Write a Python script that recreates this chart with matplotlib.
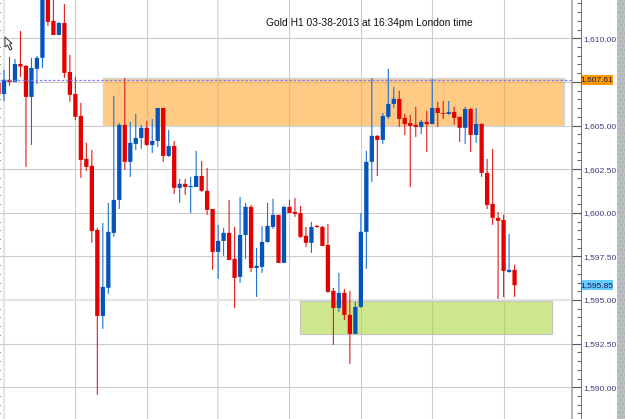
import numpy as np
import matplotlib
matplotlib.use("Agg")
import matplotlib.pyplot as plt
from matplotlib.colors import to_rgba
from matplotlib.patches import Polygon, Rectangle
from matplotlib.ticker import FuncFormatter, MultipleLocator

plt.rcParams["font.family"] = ["Liberation Sans", "DejaVu Sans"]

TITLE = "Gold H1 03-38-2013 at 16:34pm London time"

# hourly bars, oldest first
opens = [
    1607.44, 1606.81, 1607.62, 1607.50, 1608.53, 1608.42, 1606.64, 1608.25, 1608.88, 1613.34,
    1611.00, 1610.19, 1610.88, 1608.07, 1606.81, 1605.55, 1603.09, 1602.69, 1599.02, 1594.09,
    1595.70, 1598.85, 1600.74, 1605.04, 1602.92, 1603.95, 1604.29, 1604.87, 1603.89, 1604.12,
    1606.01, 1603.26, 1603.83, 1601.43, 1601.66, 1601.48, 1601.48, 1602.11, 1601.26, 1600.22,
    1597.76, 1598.39, 1598.85, 1597.36, 1596.33, 1598.73, 1600.34, 1596.84, 1596.90, 1598.33,
    1599.19, 1599.88, 1597.13, 1600.34, 1600.05, 1599.99, 1598.68, 1598.28, 1599.25, 1599.19,
    1598.16, 1595.53, 1594.55, 1595.41, 1594.15, 1593.06, 1594.61, 1598.91, 1602.92, 1604.41,
    1604.18, 1605.50, 1606.24, 1606.53, 1605.44, 1605.15, 1605.04, 1604.92, 1605.21, 1605.09,
    1606.01, 1605.72, 1605.67, 1605.78, 1605.50, 1604.87, 1605.95, 1604.46, 1605.09, 1602.29,
    1600.51, 1599.71, 1599.59, 1596.61, 1596.73,
]
highs = [
    1607.44, 1608.19, 1608.93, 1608.82, 1610.42, 1608.48, 1608.88, 1608.99, 1613.60, 1613.60,
    1614.26, 1610.94, 1611.97, 1609.05, 1607.79, 1606.30, 1604.01, 1603.61, 1599.14, 1599.42,
    1600.57, 1606.70, 1605.15, 1607.73, 1605.21, 1605.67, 1605.04, 1605.27, 1605.38, 1606.01,
    1606.01, 1604.75, 1604.12, 1601.94, 1601.94, 1602.06, 1603.55, 1602.97, 1602.57, 1600.22,
    1599.31, 1599.14, 1600.74, 1599.19, 1600.91, 1600.57, 1600.45, 1597.99, 1599.25, 1600.57,
    1600.80, 1599.88, 1600.40, 1600.74, 1600.85, 1600.40, 1599.19, 1599.48, 1599.31, 1599.25,
    1599.36, 1595.70, 1596.56, 1595.64, 1595.53, 1594.90, 1599.99, 1603.55, 1607.73, 1604.46,
    1605.72, 1608.25, 1607.21, 1606.99, 1605.67, 1605.61, 1606.07, 1605.32, 1605.84, 1607.67,
    1606.36, 1606.41, 1606.41, 1606.07, 1605.50, 1606.07, 1606.01, 1606.01, 1605.15, 1603.09,
    1603.66, 1600.05, 1599.88, 1598.79, 1597.02,
]
lows = [
    1606.81, 1606.41, 1607.27, 1607.50, 1607.79, 1602.63, 1603.89, 1607.39, 1608.30, 1610.71,
    1610.19, 1610.19, 1607.73, 1606.36, 1605.32, 1602.00, 1602.40, 1598.28, 1589.57, 1593.35,
    1595.35, 1598.62, 1600.22, 1602.46, 1602.06, 1603.61, 1603.66, 1603.83, 1603.43, 1603.78,
    1602.92, 1603.20, 1601.08, 1600.57, 1601.03, 1599.99, 1601.48, 1601.20, 1599.88, 1596.73,
    1596.21, 1597.53, 1597.30, 1594.55, 1595.98, 1597.36, 1596.61, 1595.18, 1596.56, 1598.28,
    1599.08, 1597.13, 1597.13, 1599.99, 1599.77, 1598.56, 1598.05, 1597.70, 1599.14, 1598.10,
    1595.41, 1592.43, 1594.32, 1593.86, 1591.34, 1593.06, 1594.55, 1596.79, 1601.77, 1602.11,
    1603.95, 1605.38, 1606.01, 1604.92, 1604.46, 1601.48, 1604.35, 1604.52, 1603.49, 1605.09,
    1604.92, 1605.38, 1605.61, 1605.04, 1604.06, 1603.95, 1603.49, 1604.01, 1602.06, 1600.22,
    1599.31, 1595.07, 1595.18, 1596.56, 1595.18,
]
closes = [
    1606.81, 1607.62, 1607.50, 1608.53, 1608.39, 1606.64, 1608.30, 1608.88, 1613.34, 1610.94,
    1610.19, 1610.88, 1608.02, 1606.76, 1605.50, 1603.03, 1602.63, 1598.96, 1594.09, 1595.75,
    1598.91, 1600.74, 1605.04, 1602.92, 1604.01, 1604.29, 1604.87, 1603.89, 1604.12, 1606.01,
    1603.26, 1603.83, 1601.43, 1601.66, 1601.48, 1601.54, 1602.11, 1601.26, 1600.17, 1597.76,
    1598.39, 1598.85, 1597.30, 1596.27, 1598.73, 1600.34, 1596.84, 1596.96, 1598.33, 1599.25,
    1599.88, 1597.13, 1600.34, 1599.99, 1599.94, 1598.62, 1598.28, 1599.19, 1599.19, 1598.10,
    1595.47, 1594.55, 1595.41, 1594.15, 1593.06, 1594.61, 1598.91, 1602.92, 1604.41, 1604.18,
    1605.55, 1606.24, 1606.53, 1605.38, 1605.09, 1604.98, 1604.92, 1605.21, 1605.09, 1606.01,
    1605.72, 1605.67, 1605.78, 1605.44, 1604.87, 1605.95, 1604.46, 1605.09, 1602.29, 1600.45,
    1599.71, 1599.54, 1596.67, 1596.73, 1595.85,
]

# price bands marked on the chart: (first bar, last bar, low, high)
resistance_zone = (18.03, 102.0, 1605.0, 1607.75)
support_zone = (53.97, 99.87, 1593.06, 1594.92)

bid_price = 1607.61
last_price = 1595.85

# the 1,607.50 label is covered by the bid tag
price_levels = [1590.0, 1592.5, 1595.0, 1597.5, 1600.0, 1602.5, 1605.0, 1607.5, 1610.0]
price_labels = ["1,590.00", "1,592.50", "1,595.00", "1,597.50", "1,600.00", "1,602.50", "1,605.00", "", "1,610.00"]
bar_grid = [0, 13, 26, 39, 52, 65, 78, 91]

W, H = 625, 419
XMIN, XMAX = -0.729, 103.46
YMIN, YMAX = 1588.183, 1612.195


def px(x, y):
    return x / W, 1 - y / H


fig = plt.figure(figsize=(W / 100, H / 100), dpi=100, facecolor="white")
ax = fig.add_axes([0, 0, 572 / W, 1])
ax.set_xlim(XMIN, XMAX)
ax.set_ylim(YMIN, YMAX)

ax.set_xticks(bar_grid)
ax.set_yticks(price_levels)
ax.tick_params(left=False, bottom=False, labelleft=False, labelbottom=False)
ax.grid(True, color="#cbcbcb", lw=0.75, zorder=0)
ax.set_axisbelow(True)
for name in ["top", "left", "bottom"]:
    ax.spines[name].set_visible(False)
ax.spines["right"].set_color("#a8a8a8")
ax.spines["right"].set_linewidth(1.2)

# a few grid lines fall between pixels and come out wider and paler
for line in (ax.get_xgridlines()[0], ax.get_xgridlines()[3], ax.get_ygridlines()[2]):
    line.set_color("#e4e4e4")
    line.set_linewidth(1.5)

# bands sit over the grid but under the candles
for zone, face, edge in [
    (resistance_zone, "#ffa733", "#c9d3e3"),
    (support_zone, "#b0d840", "#c2c6c2"),
]:
    ax.add_patch(
        Rectangle(
            (zone[0], zone[2]),
            zone[1] - zone[0],
            zone[3] - zone[2],
            facecolor=to_rgba(face, 0.6),
            edgecolor=edge,
            lw=0.9,
            zorder=1,
        )
    )

bars = np.arange(len(opens)) - 1
o = np.array(opens)
c = np.array(closes)
up = c > o

wicks = ax.vlines(
    bars,
    lows,
    highs,
    colors=np.where(up, "#1c72d2", "#e01c1c").tolist(),
    lw=0.8,
    zorder=2,
)
wicks.set_snap(False)

bodies = ax.bar(
    bars,
    np.abs(c - o),
    bottom=np.minimum(o, c),
    width=0.78,
    color=np.where(up, "#0454bb", "#e30000").tolist(),
    lw=0,
    zorder=3,
)
for b in bodies:
    b.set_snap(False)

ax.axhline(bid_price, color="#8080ff", lw=0.9, ls=(0, (2, 1.5)), zorder=4)

fig.text(369 / W, px(0, 23.5)[1], TITLE, ha="center", va="center", fontsize=7.4, color="#111111")

# price scale with ticks pointing in from its right edge
scale = fig.add_axes([572 / W, 0, 9 / W, 1], sharey=ax)
scale.patch.set_visible(False)
scale.set_xticks([])
for name in ["top", "left", "bottom"]:
    scale.spines[name].set_visible(False)
scale.spines["right"].set_color("#6e6e6e")
scale.spines["right"].set_linewidth(0.7)
scale.yaxis.tick_right()
scale.set_yticks(price_levels, labels=price_labels)
scale.yaxis.set_minor_locator(MultipleLocator(0.5))
scale.tick_params(
    axis="y", which="major", direction="in", length=6.5, width=0.8,
    color="#555555", labelsize=6.1, labelcolor="#3d3d78", pad=1.6,
)
scale.tick_params(axis="y", which="minor", direction="in", length=2.6, width=0.8, color="#666666")
scale.set_ylim(YMIN, YMAX)

# highlighted price tags on the scale
for price, bg in [(bid_price, "#ff9900"), (last_price, "#66ccff")]:
    y = (YMAX - price) / (YMAX - YMIN) * H
    fig.add_artist(
        Rectangle(px(581.5, y + 4.8), 31.5 / W, 9.6 / H, transform=fig.transFigure, facecolor=bg, lw=0)
    )
    fig.text(597.2 / W, px(0, y)[1], f"{price:,.2f}", ha="center", va="center", fontsize=6.0, color="#1a1a50")

# window edge strip
fig.add_artist(
    Rectangle(px(617, H), 8 / W, 1, transform=fig.transFigure, facecolor="#bcc2c4", edgecolor="#a9b0b2", hatch="....", lw=0)
)

# mouse pointer
pointer = [(5, 37), (5, 47), (7.5, 45), (10, 50), (12, 49), (9.5, 44), (12, 43.5)]
fig.add_artist(
    Polygon([px(*p) for p in pointer], closed=True, transform=fig.transFigure, facecolor="white", edgecolor="#333333", lw=0.7)
)

fig.savefig("out.png", dpi=100)
